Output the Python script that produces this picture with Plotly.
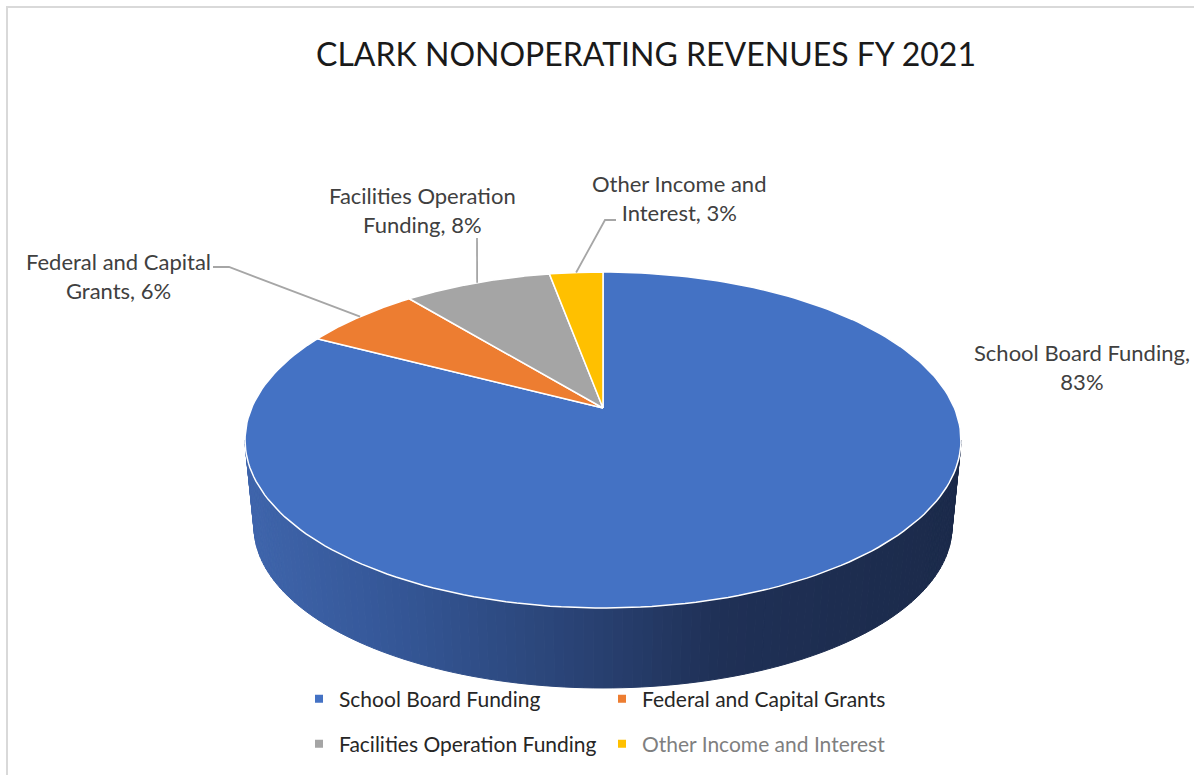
import numpy as np
import plotly.graph_objects as go

# ---------------- data ----------------
categories = ["School Board Funding", "Federal and Capital Grants",
              "Facilities Operation Funding", "Other Income and Interest"]
shares = [82.7, 6.4, 8.0, 2.9]          # percent of nonoperating revenues
label_names = ["School Board Funding", "Federal and Capital<br>Grants",
               "Facilities Operation<br>Funding", "Other Income and<br>Interest"]
colors = ["#4472C4", "#ED7D31", "#A5A5A5", "#FFC000"]
title_text = "CLARK NONOPERATING REVENUES FY 2021"

# ---------------- layout constants (pixel space) ----------------
W, H = 1194, 775
CX, CY, A, B, K = 603.0, 408.0, 351.4, 161.9, 0.1905       # top face
CYB, AB, BB = 496.0, 342.6, 155.4                             # bottom face
FONT = "Lato"


def proj(theta, r=1.0, cy=CY, a=A, b=B):
    w = 1.0 / (1.0 + K * r * np.cos(theta))
    return CX + a * r * np.sin(theta) * w, cy - b * r * np.cos(theta) * w


fig = go.Figure()

# ----- side wall with horizontal gradient -----
stops_x = [245, 400, 600, 720, 961]
stops_c = [(63, 101, 172), (52, 86, 150), (40, 64, 112), (31, 48, 86), (27, 42, 74)]


def wall_color(x):
    c = [np.interp(x, stops_x, [s[i] for s in stops_c]) for i in range(3)]
    return "rgb(%d,%d,%d)" % tuple(int(round(v)) for v in c)


th_r = np.arccos(-K)
th_l = 2 * np.pi - th_r
edges = np.linspace(th_r, th_l, 121)
for t0, t1 in zip(edges[:-1], edges[1:]):
    ts = np.array([t0, t1])
    xt, yt = proj(ts)
    xb, yb = proj(ts[::-1], cy=CYB, a=AB, b=BB)
    xs = np.concatenate([xt, xb, xt[:1]])
    ys = np.concatenate([yt, yb, yt[:1]])
    col = wall_color(xs.mean())
    fig.add_trace(go.Scatter(x=xs, y=ys, mode="lines", fill="toself",
                             fillcolor=col, line=dict(color=col, width=1),
                             hoverinfo="skip", showlegend=False))

# ----- top face slices (clockwise from 12 o'clock) -----
total = sum(shares)
bounds = np.concatenate([[0.0], np.cumsum(shares) / total * 2 * np.pi])
mids = []
for i, name in enumerate(categories):
    t = np.linspace(bounds[i], bounds[i + 1], 200)
    xa, ya = proj(t)
    xs = np.concatenate([[CX], xa, [CX]])
    ys = np.concatenate([[CY], ya, [CY]])
    fig.add_trace(go.Scatter(x=xs, y=ys, mode="lines", fill="toself",
                             fillcolor=colors[i], line=dict(color="white", width=1.5),
                             name=name, hoverinfo="name", showlegend=False))
    mids.append(0.5 * (bounds[i] + bounds[i + 1]))

# ----- leader lines (slice end computed from slice mid-angle) -----
leader_label_pts = {1: [(229, 267), (213, 267)],
                    2: [(477, 238)],
                    3: [(605, 220), (616, 220)]}
for i, pts in leader_label_pts.items():
    x0, y0 = proj(mids[i])
    xs = [float(x0)] + [p[0] for p in pts]
    ys = [float(y0)] + [p[1] for p in pts]
    fig.add_trace(go.Scatter(x=xs, y=ys, mode="lines",
                             line=dict(color="#A6A6A6", width=1.8),
                             hoverinfo="skip", showlegend=False))

# ----- data labels -----
label_pos = [(1082, 367), (118, 276), (422, 210), (679, 198)]
for i in range(len(categories)):
    pct = round(shares[i] / total * 100)
    if i == 0:
        text = "%s,<br>%d%%" % (label_names[i], pct)
    else:
        text = "%s, %d%%" % (label_names[i], pct)
    fig.add_annotation(x=label_pos[i][0], y=label_pos[i][1], xref="x", yref="y",
                       text=text, showarrow=False, xanchor="center", yanchor="middle",
                       align="center", font=dict(family=FONT, size=22, color="#404040"))

# ----- legend entries -----
legend_names = categories[:3] + ["<span style='color:#7F7F7F'>%s</span>" % categories[3]]
for i, nm in enumerate(legend_names):
    fig.add_trace(go.Scatter(x=[None], y=[None], mode="markers",
                             marker=dict(symbol="square", size=8, color=colors[i]),
                             name=nm, legend="legend" if i < 2 else "legend2"))

leg_common = dict(orientation="h", xanchor="left", yanchor="middle",
                  entrywidth=258, entrywidthmode="pixels", bgcolor="rgba(0,0,0,0)",
                  font=dict(family=FONT, size=21, color="#262626"), itemwidth=30,
                  tracegroupgap=0)

fig.update_layout(
    width=W, height=H, autosize=False,
    margin=dict(l=0, r=0, t=0, b=0),
    paper_bgcolor="white", plot_bgcolor="white",
    xaxis=dict(range=[0, W], visible=False, fixedrange=True),
    yaxis=dict(range=[H, 0], visible=False, fixedrange=True),
    title=dict(text=title_text, x=646 / W, xanchor="center", y=1 - 55 / H,
               yanchor="middle", font=dict(family=FONT, size=32, color="#1A1A1A")),
    legend=dict(x=299 / W, y=1 - 699 / H, **leg_common),
    legend2=dict(x=299 / W, y=1 - 744 / H, **leg_common),
    shapes=[dict(type="rect", xref="paper", yref="paper", x0=7 / W, y0=-0.05,
                 x1=1.05, y1=1 - 7 / H, line=dict(color="#D9D9D9", width=2))],
    showlegend=True,
)

fig.write_html("out.html", config={"displayModeBar": False},
               post_script="document.body.style.margin='0';document.body.style.overflow='hidden';")
